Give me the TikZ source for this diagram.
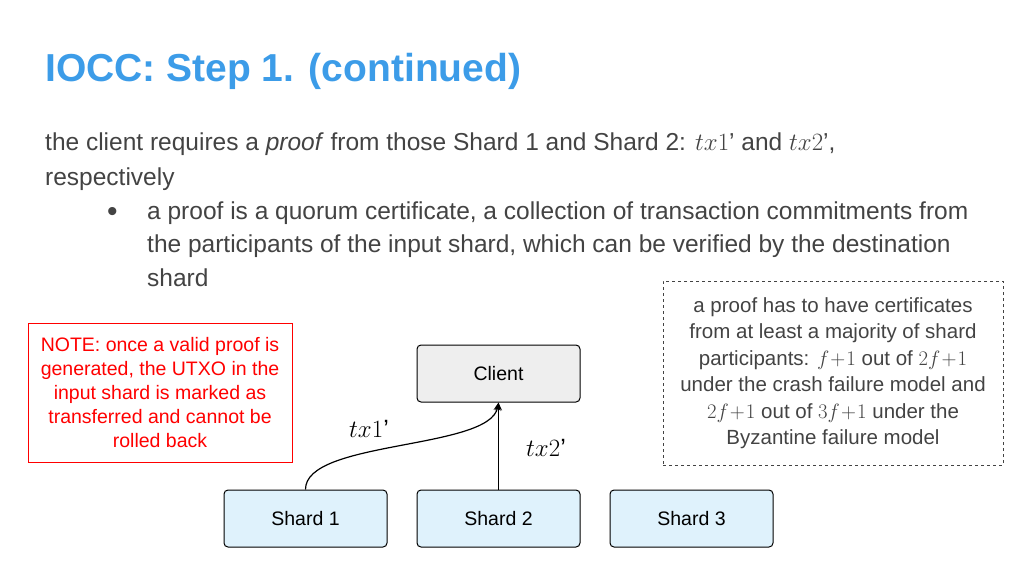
\documentclass[tikz,border=0pt]{standalone}
\usepackage{fontspec}
\setmainfont{Liberation Sans}
\usetikzlibrary{arrows.meta}
\definecolor{titleblue}{HTML}{3C9CE8}
\definecolor{bodygray}{HTML}{434343}
\definecolor{shardfill}{HTML}{DFF2FC}
\definecolor{clientfill}{HTML}{EEEEEE}
\tikzset{
  box/.style={draw=black, line width=1pt, rounded corners=4pt, minimum width=163pt, minimum height=57pt, font=\fontsize{19.5}{22}\selectfont},
  conn/.style={line width=1.2pt, -{Stealth[length=8pt,width=7pt]}},
  body/.style={anchor=base west, text=bodygray, font=\fontsize{24.5}{28}\selectfont, inner sep=0pt}
}
\begin{document}
\begin{tikzpicture}[x=1pt,y=-1pt]
\useasboundingbox (0,0) rectangle (1024,576);
\node[anchor=base west, inner sep=0pt, text=titleblue, font=\fontsize{39}{44}\selectfont\bfseries] (title) at (45,81) {IOCC: Step 1. (continued)};
\node[body] (l1) at (45,150) {the client requires a \textit{proof} from those Shard 1 and Shard 2: $tx1$’ and $tx2$’,};
\node[body] (l2) at (45,185) {respectively};
\node[body, font=\fontsize{30}{30}\selectfont] (b) at (107,221) {\textbullet};
\node[body] (l3) at (147,219) {a proof is a quorum certificate, a collection of transaction commitments from};
\node[body] (l4) at (147,252) {the participants of the input shard, which can be verified by the destination};
\node[body] (l5) at (147,286) {shard};
\node[box, fill=clientfill] (client) at (498.5,373.5) {Client};
\node[box, fill=shardfill] (s1) at (305.5,518.5) {Shard 1};
\node[box, fill=shardfill] (s2) at (498.5,518.5) {Shard 2};
\node[box, fill=shardfill] (s3) at (691.5,518.5) {Shard 3};
\draw[conn] (s1.north) .. controls (305,440) and (490,450) .. (client.south);
\draw[conn] (s2.north) -- (client.south);
\node[font=\fontsize{25}{28}\selectfont] (t1) at (369,429) {$tx1$’};
\node[font=\fontsize{25}{28}\selectfont] (t2) at (546,448) {$tx2$’};
\node[draw=red, line width=0.8pt, minimum width=264pt, minimum height=139pt, text=red, align=center, font=\fontsize{19.5}{24}\selectfont] (note) at (160,392.5) {NOTE: once a valid proof is\\generated, the UTXO in the\\input shard is marked as\\transferred and cannot be\\rolled back};
\node[draw=bodygray, dashed, line width=0.8pt, minimum width=340pt, minimum height=184pt, text=bodygray, align=center, font=\fontsize{20.5}{26.5}\selectfont] (dash) at (833,373) {a proof has to have certificates\\from at least a majority of shard\\participants: $f\!+\!1$ out of $2f\!+\!1$\\under the crash failure model and\\$2f\!+\!1$ out of $3f\!+\!1$ under the\\Byzantine failure model};
\end{tikzpicture}
\end{document}
